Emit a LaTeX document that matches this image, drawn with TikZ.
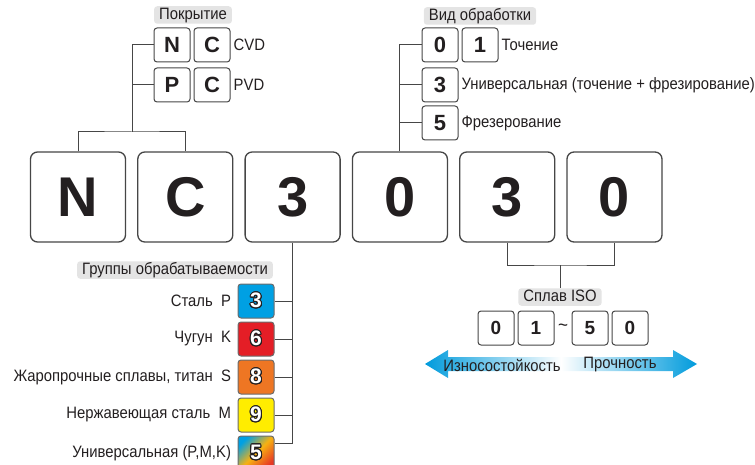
\documentclass[tikz,border=0pt]{standalone}
\usepackage{fontspec}
\setmainfont{Liberation Sans}[FakeStretch=0.9]
\newfontfamily\digitfont{Liberation Sans}
\usepackage[copies]{contour}
\contourlength{1pt}
\usetikzlibrary{positioning}
\definecolor{ink}{RGB}{35,31,32}
\definecolor{wire}{RGB}{70,70,70}
\definecolor{tag}{RGB}{228,228,228}
\definecolor{isoblue}{RGB}{0,160,227}
\definecolor{isored}{RGB}{228,30,38}
\definecolor{isoorange}{RGB}{238,118,35}
\definecolor{isoyellow}{RGB}{255,237,0}
\definecolor{sky}{RGB}{0,155,220}

\begin{document}
\begin{tikzpicture}[x=1pt,y=-1pt,node distance=11pt and 11pt,font=\fontsize{16.5}{19}\selectfont,text=ink,
bigbox/.style={draw=wire,line width=1.3pt,rounded corners=7pt,fill=white,minimum width=95pt,minimum height=90pt,inner sep=0pt,font=\digitfont\bfseries\fontsize{56}{56}\selectfont},
smallbox/.style={draw=wire,line width=1pt,rounded corners=3pt,fill=white,minimum width=36pt,minimum height=34pt,inner sep=0pt,font=\digitfont\bfseries\fontsize{22}{22}\selectfont},
isobox/.style={smallbox,font=\digitfont\bfseries\fontsize{19}{19}\selectfont},
groupbox/.style={smallbox,draw=wire!80,text=white,font=\digitfont\bfseries\fontsize{21}{21}\selectfont},
tagbox/.style={fill=tag,rounded corners=3pt,inner xsep=5pt,inner ysep=1pt,text height=12pt,text depth=3.5pt},
wireline/.style={draw=wire,line width=1pt}]
\useasboundingbox (0,0) rectangle (755,465);
% code
\node[bigbox] (bN) at (78,197) {N};
\node[bigbox,right=of bN] (bC) {C};
\node[bigbox,right=of bC] (b3) {3};
\node[bigbox,right=of b3] (b0) {0};
\node[bigbox,right=of b0] (b3b) {3};
\node[bigbox,right=of b3b] (b0b) {0};
% coating
\node[tagbox] (coat) at (193,15) {Покрытие};
\node[smallbox] (cN) at (172,45) {N};
\node[smallbox,right=3pt of cN] (cC1) {C};
\node[smallbox] (cP) at (172,85) {P};
\node[smallbox,right=3pt of cP] (cC2) {C};
\node[right=0pt of cC1,inner xsep=3pt] (cvd) {CVD};
\node[right=0pt of cC2,inner xsep=3pt] (pvd) {PVD};
\coordinate (jl) at (132,132);
\draw[wireline] (cN.west) -| (jl);\draw[wireline] (cP.west) -- (cP.west -| jl);
\draw[wireline] (bN.north) |- (jl) -| (bC.north);
% machining
\node[tagbox] (kind) at (480,16) {Вид обработки};
\node[smallbox] (m0) at (440,45) {0};
\node[smallbox,right=3pt of m0] (m1) {1};
\node[smallbox] (m3) at (440,85) {3};
\node[smallbox] (m5) at (440,123) {5};
\node[right=0pt of m1,inner xsep=3pt] (turn) {Точение};
\node[right=0pt of m3,inner xsep=3pt] (univ) {Универсальная (точение + фрезирование)};
\node[right=0pt of m5,inner xsep=3pt] (mill) {Фрезерование};
\draw[wireline] (m0.west) -| (b0.north);
\draw[wireline] (m3.west) -- (m3.west -| b0.north);\draw[wireline] (m5.west) -- (m5.west -| b0.north);
% ISO grade
\node[tagbox] (iso) at (560,297) {Сплав ISO};
\coordinate (jb) at (560,265);
\draw[wireline] (b3b.south) |- (jb) -| (b0b.south);\draw[wireline] (jb) -- (iso.north);
\node[isobox] (i0) at (496,328) {0};
\node[isobox,right=3pt of i0] (i1) {1};
\node[font=\fontsize{19}{19}\selectfont] (tl) at (563,328) {\textasciitilde};
\node[isobox] (i5) at (590,328) {5};
\node[isobox,right=3pt of i5] (i0b) {0};
\shade[left color=sky,right color=sky,middle color=white] (425,364) -- (448,350) -- (448,357) -- (673,357) -- (673,350) -- (697,364) -- (673,378) -- (673,371) -- (448,371) -- (448,378) -- cycle;
\node (wear) at (502,365) {Износостойкость};
\node (tough) at (620,365) {Прочность};
% material groups
\node[tagbox] (grp) at (175,270) {Группы обрабатываемости};
\node[groupbox,fill=isoblue] (gP) at (256,301) {\contour{ink}{3}};
\node[groupbox,fill=isored,below=3pt of gP] (gK) {\contour{ink}{6}};
\node[groupbox,fill=isoorange,below=3pt of gK] (gS) {\contour{ink}{8}};
\node[groupbox,fill=isoyellow,below=3pt of gS] (gM) {\contour{ink}{9}};
\node[groupbox,top color=isoblue,bottom color=isored!70!isoorange,middle color=isoyellow!50!isoorange,shading angle=45,below=3pt of gM] (gU) {\contour{ink}{5}};
\node[left=3pt of gP] (lP) {Сталь\enspace P};
\node[left=3pt of gK] (lK) {Чугун\enspace K};
\node[left=3pt of gS] (lS) {Жаропрочные сплавы, титан\enspace S};
\node[left=3pt of gM] (lM) {Нержавеющая сталь\enspace M};
\node[left=3pt of gU] (lU) {Универсальная (P,M,K)};
\draw[wireline] (b3.south) |- ([yshift=-8pt]gU.north east);
\draw[wireline] (gP.east) -- (gP.east -| b3.south);\draw[wireline] (gK.east) -- (gK.east -| b3.south);
\draw[wireline] (gS.east) -- (gS.east -| b3.south);\draw[wireline] (gM.east) -- (gM.east -| b3.south);
\end{tikzpicture}
\end{document}
